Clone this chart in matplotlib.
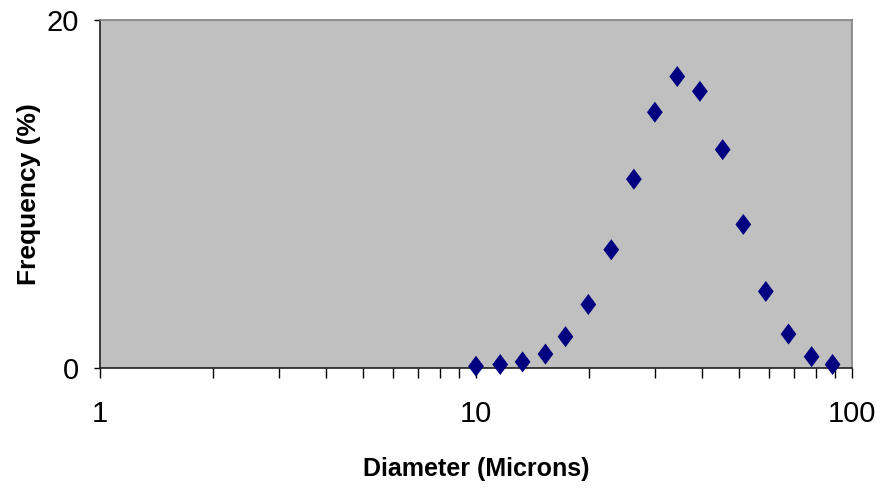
import matplotlib.pyplot as plt
from matplotlib.ticker import LogLocator, FixedLocator, NullFormatter

# particle size distribution
diameter = [10.0, 11.6, 13.3, 15.3, 17.3, 19.9, 22.9, 26.3, 29.9, 34.3,
            39.4, 45.3, 51.4, 59.0, 67.8, 78.1, 88.8]
frequency = [0.1, 0.2, 0.35, 0.8, 1.8, 3.65, 6.8, 10.85, 14.7, 16.75,
             15.9, 12.55, 8.25, 4.4, 1.95, 0.65, 0.2]

x_ticks = [1, 10, 100]
x_tick_labels = ['1', '10', '100']
y_ticks = [0, 20]
y_tick_labels = ['0', '20']

plt.rcParams['font.family'] = ['Liberation Sans Narrow', 'Liberation Sans', 'DejaVu Sans']

fig = plt.figure(figsize=(8.86, 4.91), dpi=100)
ax = fig.add_axes([0.1129, 0.2505, 0.8487, 0.7088])
ax.set_facecolor('#C0C0C0')

# slightly tall diamond like the Excel marker
diamond = [(0, 1), (0.75, 0), (0, -1), (-0.75, 0), (0, 1)]
ax.scatter(diameter, frequency, marker=diamond, s=230, color='#000080',
           edgecolors='none', zorder=3, clip_on=False)

ax.set_xscale('log')
ax.set_xlim(1, 100)
ax.set_ylim(0, 20)

ax.xaxis.set_major_locator(FixedLocator(x_ticks))
ax.set_xticklabels(x_tick_labels)
ax.xaxis.set_minor_locator(LogLocator(base=10, subs=range(2, 10)))
ax.xaxis.set_minor_formatter(NullFormatter())
ax.set_yticks(y_ticks)
ax.set_yticklabels(y_tick_labels)

ax.tick_params(axis='x', which='both', direction='out', length=7, width=1,
               color='black', labelsize=21, pad=16)
ax.tick_params(axis='y', which='both', direction='out', length=4, width=1,
               color='black', labelsize=21, pad=11)

for side in ['top', 'right']:
    ax.spines[side].set_color('#808080')
    ax.spines[side].set_linewidth(1.2)
for side in ['left', 'bottom']:
    ax.spines[side].set_color('#202020')
    ax.spines[side].set_linewidth(1.2)

ax.set_xlabel('Diameter (Microns)', fontsize=18, fontweight='bold', labelpad=21)
ax.set_ylabel('Frequency (%)', fontsize=19, fontweight='bold', labelpad=4)

fig.savefig('out.png', dpi=100, facecolor='white')
